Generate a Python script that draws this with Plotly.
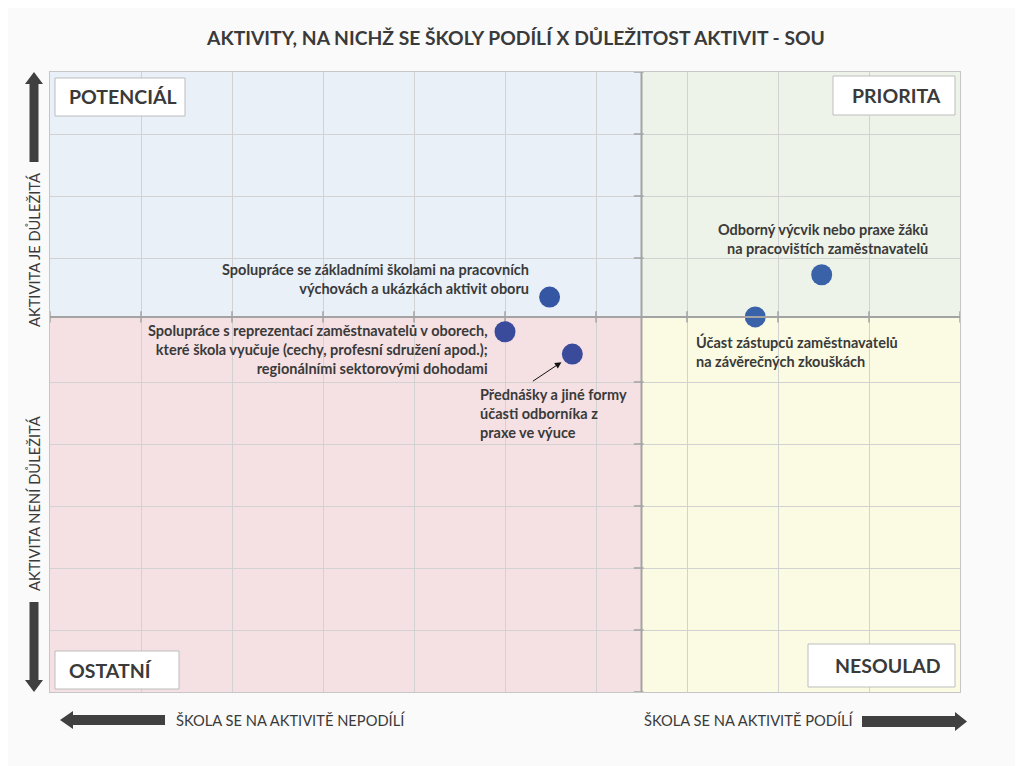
import plotly.graph_objects as go

# ---- data ----
activities = [
    "Spolupráce se základními školami na pracovních výchovách a ukázkách aktivit oboru",
    "Spolupráce s reprezentací zaměstnavatelů v oborech, které škola vyučuje; regionálními sektorovými dohodami",
    "Přednášky a jiné formy účasti odborníka z praxe ve výuce",
    "Odborný výcvik nebo praxe žáků na pracovištích zaměstnavatelů",
    "Účast zástupců zaměstnavatelů na závěrečných zkouškách",
]
participation = [54.9, 50.0, 57.4, 84.8, 77.5]   # x: škola se podílí
importance = [63.7, 58.1, 54.5, 67.3, 60.5]      # y: důležitost
x_split = 65
y_split = 60.5
grid_vals = [0, 10, 20, 30, 40, 50, 60, 70, 80, 90, 100]
quadrant_names = ["POTENCIÁL", "PRIORITA", "OSTATNÍ", "NESOULAD"]
title_text = "AKTIVITY, NA NICHŽ SE ŠKOLY PODÍLÍ X DŮLEŽITOST AKTIVIT - SOU"

FONT = "Lato"
TXT = "#3a3a3a"
ARROW = "#404040"
marker_colors = ["#3556a3", "#3a4b9c", "#3a4b9c", "#3a62a8", "#3a62a8"]

fig = go.Figure()

# quadrant backgrounds
quads = [
    (0, x_split, y_split, 100, "#e9f0f8"),
    (x_split, 100, y_split, 100, "#eef3e9"),
    (0, x_split, 0, y_split, "#f5e1e3"),
    (x_split, 100, 0, y_split, "#fbfbe3"),
]
for x0, x1, y0, y1, c in quads:
    fig.add_shape(type="rect", xref="x", yref="y", x0=x0, x1=x1, y0=y0, y1=y1,
                  fillcolor=c, line_width=0, layer="below")

# center axes lines
fig.add_shape(type="line", xref="x", yref="y", x0=x_split, x1=x_split, y0=0, y1=100,
              line=dict(color="#a3a3a3", width=2))
fig.add_shape(type="line", xref="x", yref="y", x0=0, x1=100, y0=y_split, y1=y_split,
              line=dict(color="#a3a3a3", width=2))

# small tick marks on center axes
gy = [v for v in grid_vals if abs(v - y_split) > 2]
fig.add_trace(go.Scatter(x=grid_vals, y=[y_split] * len(grid_vals), mode="markers",
                         marker=dict(symbol="line-ns", size=8, line=dict(color="#a3a3a3", width=1.5)),
                         hoverinfo="skip", showlegend=False))
fig.add_trace(go.Scatter(x=[x_split - 0.3] * len(gy), y=gy, mode="markers",
                         marker=dict(symbol="line-ew", size=7, line=dict(color="#a3a3a3", width=1.5)),
                         hoverinfo="skip", showlegend=False))

# data points
fig.add_trace(go.Scatter(x=participation, y=importance, mode="markers", text=activities,
                         marker=dict(size=21, color=marker_colors, line=dict(width=0)),
                         hoverinfo="text", showlegend=False))

# page-pixel -> paper coordinates (plot area spans page px 50..960 x 72..692)
def px2paper(px, py):
    return (px - 50) / 910, (692 - py) / 620

boxes = [
    (quadrant_names[0], 55, 185, 78, 116, "left"),
    (quadrant_names[1], 833, 955, 76, 115, "right"),
    (quadrant_names[2], 55, 179, 651, 689, "left"),
    (quadrant_names[3], 808, 955, 644, 687, "right"),
]
for name, x0, x1, y0, y1, al in boxes:
    a0, b1 = px2paper(x0, y0)
    a1, b0 = px2paper(x1, y1)
    fig.add_shape(type="rect", xref="paper", yref="paper", x0=a0, x1=a1, y0=b0, y1=b1,
                  fillcolor="white", line=dict(color="#bdbdbd", width=1))
    if al == "left":
        tx, _ = px2paper(x0 + 12, 0)
        xa = "left"
    else:
        tx, _ = px2paper(x1 - 12, 0)
        xa = "right"
    fig.add_annotation(xref="paper", yref="paper", x=tx, y=(b0 + b1) / 2, text="<b>%s</b>" % name,
                       showarrow=False, xanchor=xa, yanchor="middle",
                       font=dict(family=FONT, size=19.5, color=TXT))

# point labels
lab = dict(showarrow=False, font=dict(family=FONT, size=14.5, color=TXT))
fig.add_annotation(x=52.9, y=66.6, text="<b>Spolupráce se základními školami na pracovních<br>výchovách a ukázkách aktivit oboru</b>",
                   xanchor="right", yanchor="middle", align="right", **lab)
fig.add_annotation(x=48.4, y=55.2, text="<b>Spolupráce s reprezentací zaměstnavatelů v oborech,<br>které škola vyučuje (cechy, profesní sdružení apod.);<br>regionálními sektorovými dohodami</b>",
                   xanchor="right", yanchor="middle", align="right", **lab)
fig.add_annotation(x=47.0, y=45.0, text="<b>Přednášky a jiné formy<br>účasti odborníka z<br>praxe ve výuce</b>",
                   xanchor="left", yanchor="middle", align="left", **lab)
fig.add_annotation(x=96.7, y=73.0, text="<b>Odborný výcvik nebo praxe žáků<br>na pracovištích zaměstnavatelů</b>",
                   xanchor="right", yanchor="middle", align="right", **lab)
fig.add_annotation(x=70.8, y=54.9, text="<b>Účast zástupců zaměstnavatelů<br>na závěrečných zkouškách</b>",
                   xanchor="left", yanchor="middle", align="left", **lab)
# pointer arrow
fig.add_annotation(x=56.2, y=53.2, ax=-30, ay=20, text="", showarrow=True,
                   arrowhead=2, arrowsize=1.3, arrowwidth=1, arrowcolor="#111111")

# big direction arrows
def arrow_path(pts):
    p = [px2paper(a, b) for a, b in pts]
    return "M " + " L ".join("%f,%f" % q for q in p) + " Z"

arrows = [
    [(29.5, 162), (29.5, 84), (25, 84), (34, 72), (43, 84), (38.5, 84), (38.5, 162)],
    [(29.5, 602), (29.5, 680), (25, 680), (34, 692), (43, 680), (38.5, 680), (38.5, 602)],
    [(165, 715), (73, 715), (73, 711), (60, 720), (73, 729), (73, 725), (165, 725)],
    [(862, 716), (955, 716), (955, 712), (967, 721.5), (955, 731), (955, 727), (862, 727)],
]
for a in arrows:
    fig.add_shape(type="path", xref="paper", yref="paper", path=arrow_path(a),
                  fillcolor=ARROW, line=dict(width=0))

side = dict(showarrow=False, font=dict(family=FONT, size=14.7, color=TXT))
x_l, _ = px2paper(34, 0)
_, y1 = px2paper(0, 250)
_, y2 = px2paper(0, 504)
fig.add_annotation(xref="paper", yref="paper", x=x_l, y=y1, text="AKTIVITA JE DŮLEŽITÁ",
                   textangle=-90, xanchor="center", yanchor="middle", **side)
fig.add_annotation(xref="paper", yref="paper", x=x_l, y=y2, text="AKTIVITA NENÍ DŮLEŽITÁ",
                   textangle=-90, xanchor="center", yanchor="middle", **side)
bx1, by = px2paper(174, 720)
bx2, _ = px2paper(856, 720)
fig.add_annotation(xref="paper", yref="paper", x=bx1, y=by, text="ŠKOLA SE NA AKTIVITĚ NEPODÍLÍ",
                   xanchor="left", yanchor="middle", **side)
fig.add_annotation(xref="paper", yref="paper", x=bx2, y=by, text="ŠKOLA SE NA AKTIVITĚ PODÍLÍ",
                   xanchor="right", yanchor="middle", **side)

axis_common = dict(range=[0, 100], showgrid=True, gridcolor="#d2d2d2", gridwidth=1,
                   showticklabels=False, zeroline=False, showline=True, linecolor="#c6c6c6",
                   linewidth=1, mirror=True, ticks="", fixedrange=True)
fig.update_xaxes(tickvals=grid_vals, **axis_common)
fig.update_yaxes(tickvals=[v for v in grid_vals if abs(v - y_split) > 2], **axis_common)

# the page body adds an 8px offset; figure is 1015x758 so the page is 1023x766
fig.update_layout(
    width=1015, height=758,
    margin=dict(l=42, r=63, t=64, b=74),
    paper_bgcolor="#fafafa", plot_bgcolor="rgba(0,0,0,0)",
    title=dict(text="<b>%s</b>" % title_text, x=(516 - 8) / 1015, xanchor="center",
               y=1 - (38 - 8) / 758, yanchor="middle",
               font=dict(family=FONT, size=19.3, color=TXT)),
    font=dict(family=FONT),
)

fig.write_html("out.html")
